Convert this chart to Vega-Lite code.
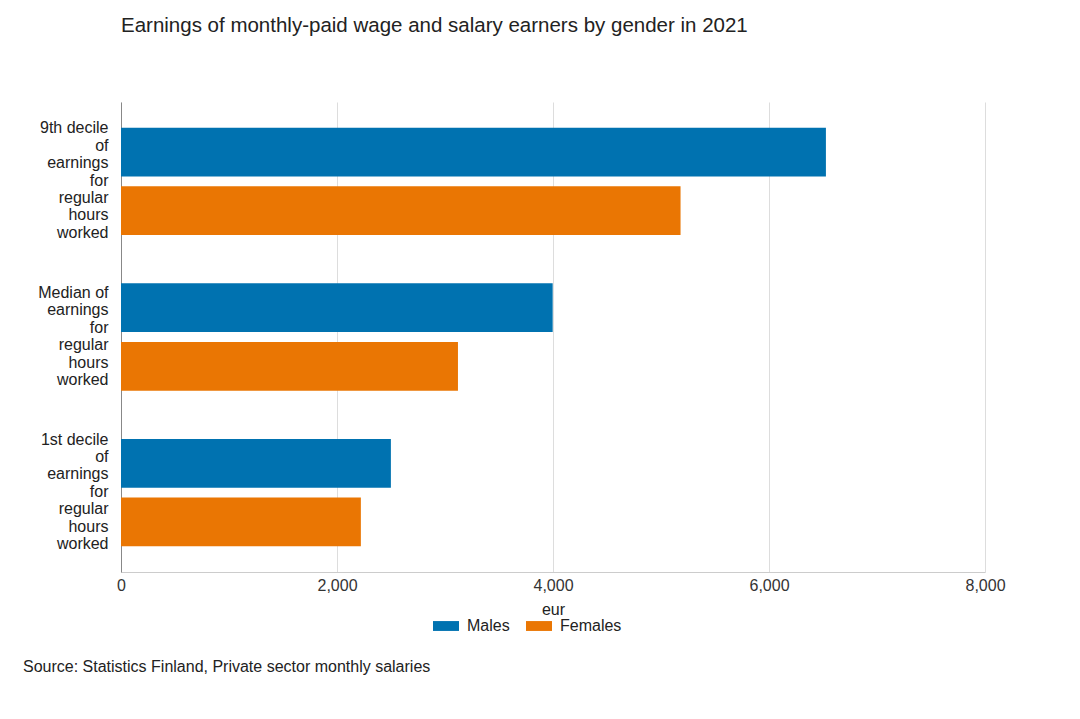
{
  "$schema": "https://vega.github.io/schema/vega-lite/v6.json",
  "autosize": {"type": "pad"},
  "padding": {"left": 23, "top": 15, "right": 0, "bottom": 0},
  "background": "white",
  "title": {
    "text": "Source: Statistics Finland, Private sector monthly salaries",
    "orient": "bottom",
    "anchor": "start",
    "frame": "group",
    "dx": -98,
    "offset": 25,
    "font": "Liberation Sans",
    "fontSize": 16,
    "fontWeight": "normal",
    "color": "#222"
  },
  "datasets": {
    "earnings": [
      {"measure": "9th decile of earnings for regular hours worked", "gender": "Males", "eur": 6527},
      {"measure": "9th decile of earnings for regular hours worked", "gender": "Females", "eur": 5181},
      {"measure": "Median of earnings for regular hours worked", "gender": "Males", "eur": 3997},
      {"measure": "Median of earnings for regular hours worked", "gender": "Females", "eur": 3120},
      {"measure": "1st decile of earnings for regular hours worked", "gender": "Males", "eur": 2499},
      {"measure": "1st decile of earnings for regular hours worked", "gender": "Females", "eur": 2221}
    ]
  },
  "vconcat": [
    {
      "title": {
        "text": "Earnings of monthly-paid wage and salary earners by gender in 2021",
        "anchor": "start",
        "frame": "group",
        "offset": 66,
        "font": "Liberation Sans",
        "fontSize": 20.5,
        "fontWeight": "normal",
        "color": "#222"
      },
      "width": 864,
      "height": 470,
      "data": {"name": "earnings"},
      "mark": {"type": "bar"},
      "encoding": {
        "y": {
          "field": "measure",
          "type": "nominal",
          "sort": [
            "9th decile of earnings for regular hours worked",
            "Median of earnings for regular hours worked",
            "1st decile of earnings for regular hours worked"
          ],
          "scale": {"paddingInner": 0.31, "paddingOuter": 0.165},
          "axis": {
            "title": null,
            "ticks": false,
            "grid": false,
            "domain": true,
            "domainColor": "#888",
            "labelPadding": 13,
            "labelFont": "Liberation Sans",
            "labelFontSize": 16,
            "labelColor": "#222",
            "labelLimit": 200,
            "labelLineHeight": 17.4,
            "labelAlign": "right",
            "labelBaseline": "middle",
            "labelOffset": {"condition": {"test": "datum.value == 'Median of earnings for regular hours worked'", "value": -44}, "value": -53},
            "labelExpr": "datum.value == '9th decile of earnings for regular hours worked' ? ['9th decile','of','earnings','for','regular','hours','worked'] : datum.value == 'Median of earnings for regular hours worked' ? ['Median of','earnings','for','regular','hours','worked'] : ['1st decile','of','earnings','for','regular','hours','worked']"
          }
        },
        "yOffset": {
          "field": "gender",
          "type": "nominal",
          "sort": ["Males", "Females"],
          "scale": {"paddingInner": 0.17}
        },
        "x": {
          "field": "eur",
          "type": "quantitative",
          "scale": {"domain": [0, 8000], "nice": false},
          "axis": {
            "title": "eur",
            "values": [0, 2000, 4000, 6000, 8000],
            "format": ",d",
            "ticks": false,
            "grid": true,
            "gridColor": "#dddddd",
            "domain": true,
            "domainColor": "#cccccc",
            "labelPadding": 5,
            "labelFont": "Liberation Sans",
            "labelFontSize": 16,
            "labelColor": "#333",
            "labelFlush": false,
            "titleFont": "Liberation Sans",
            "titleFontSize": 16,
            "titleFontWeight": "normal",
            "titleColor": "#222",
            "titlePadding": 8
          }
        },
        "color": {
          "field": "gender",
          "type": "nominal",
          "scale": {"domain": ["Males", "Females"], "range": ["#0072b0", "#ea7603"]},
          "legend": {
            "title": null,
            "orient": "none",
            "legendX": 312,
            "legendY": 511,
            "direction": "horizontal",
            "symbolType": "M-1,-0.38H1V0.38H-1Z",
            "symbolSize": 676,
            "symbolStrokeWidth": 0,
            "labelFont": "Liberation Sans",
            "labelFontSize": 16,
            "labelColor": "#222",
            "labelOffset": 8,
            "columnPadding": 16
          }
        }
      }
    }
  ],
  "config": {
    "view": {"stroke": null}
  }
}
